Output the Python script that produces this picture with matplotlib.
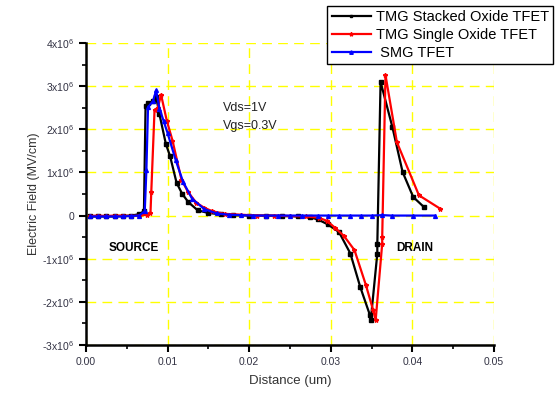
import matplotlib
matplotlib.use("Agg")
import matplotlib.pyplot as plt
from matplotlib.ticker import MultipleLocator, FuncFormatter

plt.rcParams['font.family'] = ['Liberation Sans', 'DejaVu Sans']

# Data (x in um, y in units of 1e6 MV/cm)
stacked_x = [0.0005, 0.0015, 0.0025, 0.0035, 0.0045, 0.0055, 0.0065, 0.0071, 0.0073, 0.0076,
             0.0082, 0.0086, 0.0090, 0.0098, 0.0103, 0.0111, 0.0118, 0.01255, 0.0137, 0.0150,
             0.0165, 0.0180, 0.0200, 0.0220, 0.0240, 0.0260, 0.0275, 0.0284, 0.0296, 0.0310,
             0.0324, 0.0336, 0.0348, 0.0349, 0.0357, 0.0357, 0.0361, 0.03755, 0.0388, 0.0401, 0.0414]
stacked_y = [-0.02, -0.02, -0.02, -0.02, -0.01, 0.0, 0.03, 0.10, 2.55, 2.60,
             2.65, 2.75, 2.35, 1.65, 1.38, 0.76, 0.50, 0.31, 0.12, 0.06,
             0.03, 0.01, 0.0, 0.0, -0.01, -0.02, -0.04, -0.09, -0.20, -0.38,
             -0.88, -1.65, -2.31, -2.42, -0.88, -0.67, 3.10, 2.05, 1.01, 0.43, 0.20]

single_x = [0.0005, 0.0015, 0.0025, 0.0035, 0.0045, 0.0055, 0.0065, 0.0075, 0.0079, 0.0080,
            0.0084, 0.0088, 0.0092, 0.0099, 0.0106, 0.0117, 0.0125, 0.0135, 0.0145, 0.0155,
            0.0170, 0.0190, 0.0210, 0.0230, 0.0250, 0.0270, 0.0285, 0.0295, 0.0305, 0.0316,
            0.0329, 0.0343, 0.0352, 0.0355, 0.0363, 0.0363, 0.0367, 0.0381, 0.0408, 0.0434]
single_y = [-0.01, 0.0, -0.01, 0.0, 0.0, -0.01, 0.0, 0.02, 0.05, 0.55,
            2.45, 2.50, 2.80, 2.20, 1.74, 0.83, 0.55, 0.30, 0.18, 0.10,
            0.04, 0.02, 0.0, 0.0, -0.01, -0.02, -0.05, -0.12, -0.28, -0.47,
            -0.80, -1.61, -2.20, -2.42, -0.65, -0.50, 3.26, 1.70, 0.47, 0.16]

smg_x = [0.0005, 0.0015, 0.0025, 0.0035, 0.0045, 0.0055, 0.0065, 0.0072, 0.0074, 0.0076,
         0.0082, 0.0086, 0.0090, 0.0095, 0.0100, 0.0110, 0.0119, 0.0130, 0.0145, 0.0160,
         0.0175, 0.0190, 0.0205, 0.0220, 0.0235, 0.0250, 0.0265, 0.0284, 0.0297, 0.0310,
         0.0323, 0.0337, 0.0350, 0.0363, 0.0375, 0.0401, 0.0428]
smg_y = [-0.02, -0.02, -0.02, -0.02, -0.02, -0.01, 0.0, 0.10, 1.05, 2.51,
         2.65, 2.90, 2.48, 2.20, 1.91, 1.28, 0.78, 0.39, 0.15, 0.05,
         0.02, 0.01, 0.0, 0.0, 0.0, 0.0, 0.0, 0.0, 0.0, 0.0,
         0.0, 0.0, 0.0, 0.01, 0.0, 0.0, 0.0]

labels = ["TMG Stacked Oxide TFET", "TMG Single Oxide TFET", " SMG TFET"]
annot = ["Vds=1V", "Vgs=0.3V"]

fig = plt.figure(figsize=(5.55, 3.94), dpi=100)
ax = fig.add_axes([86/555, 1-345/394, (494-86)/555, (345-43)/394])

sc = 1e6
ax.plot(stacked_x, [v*sc for v in stacked_y], color='black', lw=1.6, marker='s', ms=2.3, label=labels[0], zorder=3)
ax.plot(single_x, [v*sc for v in single_y], color='red', lw=1.6, marker='*', ms=3.2, label=labels[1], zorder=3)
ax.plot(smg_x, [v*sc for v in smg_y], color='blue', lw=1.6, marker='^', ms=2.8, label=labels[2], zorder=3)

ax.set_xlim(0, 0.05)
ax.set_ylim(-3e6, 4e6)
ax.xaxis.set_major_locator(MultipleLocator(0.01))
ax.xaxis.set_minor_locator(MultipleLocator(0.005))
ax.yaxis.set_major_locator(MultipleLocator(1e6))
ax.yaxis.set_minor_locator(MultipleLocator(0.5e6))

def yfmt(v, pos):
    n = int(round(v/1e6))
    if n == 0:
        return "0"
    return "%dx10$^{\\mathregular{6}}$" % n
ax.yaxis.set_major_formatter(FuncFormatter(yfmt))
ax.xaxis.set_major_formatter(FuncFormatter(lambda v, p: "%.2f" % v))

for s in ['top', 'right']:
    ax.spines[s].set_visible(False)
for s in ['left', 'bottom']:
    ax.spines[s].set_linewidth(1.8)

ax.tick_params(which='major', direction='out', length=5, width=1.5, labelsize=7.5, labelcolor='#333344')
ax.tick_params(which='minor', direction='out', length=3, width=1.2)

ax.grid(True, which='major', color='#ffff00', linestyle=(0, (7, 4.5)), linewidth=1.0, zorder=0)

ax.set_xlabel("Distance (um)", fontsize=9.5, color='#333333', labelpad=6)
ax.set_ylabel("Electric Field (MV/cm)", fontsize=9, color='#333333', labelpad=2)

ax.text(0.0168, 2.42e6, annot[0], fontsize=9, color='#222222')
ax.text(0.0168, 2.0e6, annot[1], fontsize=9, color='#222222')
ax.text(0.0058, -0.75e6, "SOURCE", fontsize=8.5, fontweight='bold', ha='center', va='center')
ax.text(0.0403, -0.75e6, "DRAIN", fontsize=8.5, fontweight='bold', ha='center', va='center')

leg = fig.legend(loc='upper right', bbox_to_anchor=(553/555, 1-6/394), fontsize=10.5,
                 frameon=True, fancybox=False, edgecolor='black', framealpha=1,
                 handlelength=2.7, handletextpad=0.3, borderpad=0.3, labelspacing=0.25,
                 borderaxespad=0.0, markerscale=0.9)
leg.get_frame().set_linewidth(1.0)

fig.savefig("out.png", dpi=100)
